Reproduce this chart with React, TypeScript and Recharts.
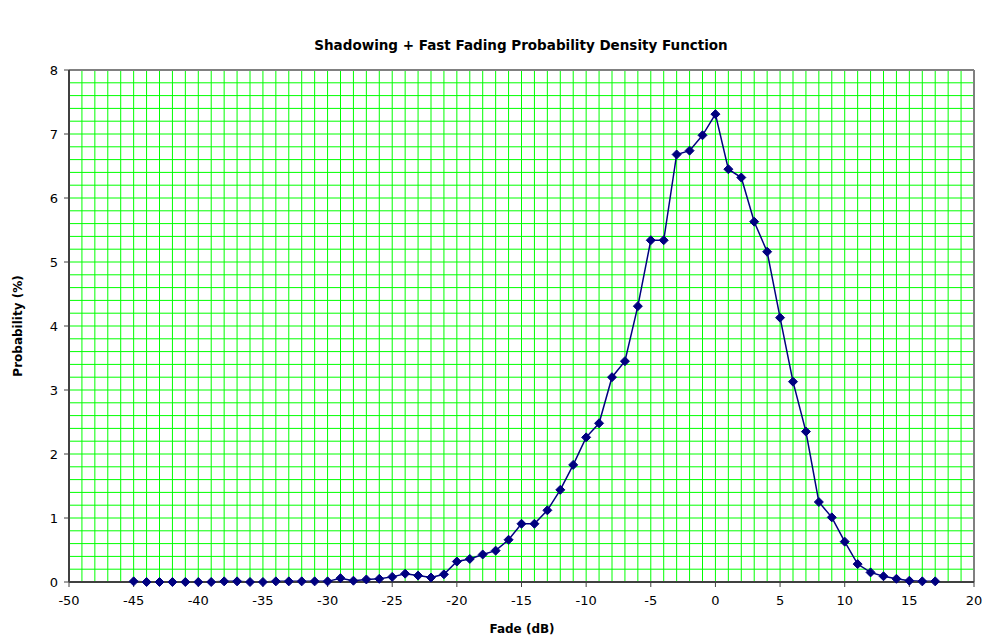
import React from 'react';
import { LineChart, Line, XAxis, YAxis, ReferenceLine } from 'recharts';

// Fade in dB, -45 .. 17
const fadeDb = [
  -45, -44, -43, -42, -41, -40, -39, -38, -37, -36, -35, -34, -33, -32, -31, -30,
  -29, -28, -27, -26, -25, -24, -23, -22, -21, -20, -19, -18, -17, -16, -15, -14,
  -13, -12, -11, -10, -9, -8, -7, -6, -5, -4, -3, -2, -1, 0, 1, 2, 3, 4, 5, 6, 7,
  8, 9, 10, 11, 12, 13, 14, 15, 16, 17,
];

// probability (%)
const probability = [
  0.01, 0.0, 0.0, 0.0, 0.0, 0.0, 0.0, 0.01, 0.01, 0.0, 0.0, 0.01, 0.01, 0.01, 0.01, 0.01,
  0.06, 0.02, 0.04, 0.05, 0.08, 0.13, 0.1, 0.07, 0.12, 0.32, 0.36, 0.43, 0.49, 0.66, 0.91, 0.91,
  1.12, 1.44, 1.83, 2.26, 2.48, 3.2, 3.45, 4.31, 5.34, 5.34, 6.68, 6.74, 6.98, 7.31, 6.45, 6.32, 5.63,
  5.16, 4.13, 3.13, 2.35, 1.25, 1.01, 0.63, 0.28, 0.15, 0.09, 0.05, 0.02, 0.01, 0.01,
];

const xTicks = [-50, -45, -40, -35, -30, -25, -20, -15, -10, -5, 0, 5, 10, 15, 20];
const yTicks = [0, 1, 2, 3, 4, 5, 6, 7, 8];

// minor grid: every 1 dB across, every 0.2 % up
const xMinor = Array.from({ length: 69 }, (_, i) => -49 + i);
const yMinor = Array.from({ length: 39 }, (_, i) => Math.round((0.2 + i * 0.2) * 10) / 10);

const data = fadeDb.map((x, i) => ({ x, p: probability[i] }));

const font = '"DejaVu Sans", Verdana, sans-serif';
const navy = '#000080';
const green = '#00ff00';

const Diamond = (props: any) => {
  const { cx, cy } = props;
  if (cx == null || cy == null) return null;
  const r = 4.5;
  return (
    <polygon
      points={`${cx},${cy - r} ${cx + r},${cy} ${cx},${cy + r} ${cx - r},${cy}`}
      fill={navy}
      stroke={navy}
      strokeWidth={1}
    />
  );
};

const App = () => {
  return (
    <div style={{ position: 'absolute', left: 0, top: 0, width: 987, height: 641, background: '#fff', fontFamily: font }}>
      <div
        style={{
          position: 'absolute', left: 521, top: 45, transform: 'translate(-50%, -50%)',
          fontWeight: 'bold', fontSize: 13.5, color: '#000', whiteSpace: 'nowrap',
        }}
      >
        Shadowing + Fast Fading Probability Density Function
      </div>
      <LineChart
        width={987}
        height={641}
        data={data}
        margin={{ top: 70, right: 13, bottom: 29, left: 0 }}
      >
        {xMinor.map((v) => (
          <ReferenceLine key={'vx' + v} x={v} stroke={green} strokeWidth={1} />
        ))}
        {yMinor.map((v) => (
          <ReferenceLine key={'hy' + v} y={v} stroke={green} strokeWidth={1} />
        ))}
        <ReferenceLine y={8} stroke="#808080" strokeWidth={2} />
        <ReferenceLine x={20} stroke="#808080" strokeWidth={2} />
        <XAxis
          dataKey="x"
          type="number"
          domain={[-50, 20]}
          ticks={xTicks}
          interval={0}
          height={30}
          axisLine={{ stroke: '#404040', strokeWidth: 2 }}
          tickLine={{ stroke: '#404040' }}
          tickSize={5}
          tickMargin={9}
          tick={{ fill: '#000', fontSize: 13, fontFamily: font }}
        />
        <YAxis
          type="number"
          domain={[0, 8]}
          ticks={yTicks}
          interval={0}
          width={69}
          axisLine={{ stroke: '#404040', strokeWidth: 2 }}
          tickLine={{ stroke: '#404040' }}
          tickSize={5}
          tickMargin={6}
          tick={{ fill: '#000', fontSize: 13, fontFamily: font }}
        />
        <Line
          dataKey="p"
          stroke={navy}
          strokeWidth={1.5}
          dot={<Diamond />}
          activeDot={false}
          isAnimationActive={false}
        />
      </LineChart>
      <div
        style={{
          position: 'absolute', left: 18, top: 326, transform: 'translate(-50%, -50%) rotate(-90deg)',
          fontWeight: 'bold', fontSize: 12, whiteSpace: 'nowrap', color: '#000',
        }}
      >
        Probability (%)
      </div>
      <div
        style={{
          position: 'absolute', left: 522, top: 629, transform: 'translate(-50%, -50%)',
          fontWeight: 'bold', fontSize: 12, whiteSpace: 'nowrap', color: '#000',
        }}
      >
        Fade (dB)
      </div>
    </div>
  );
};

export default App;
